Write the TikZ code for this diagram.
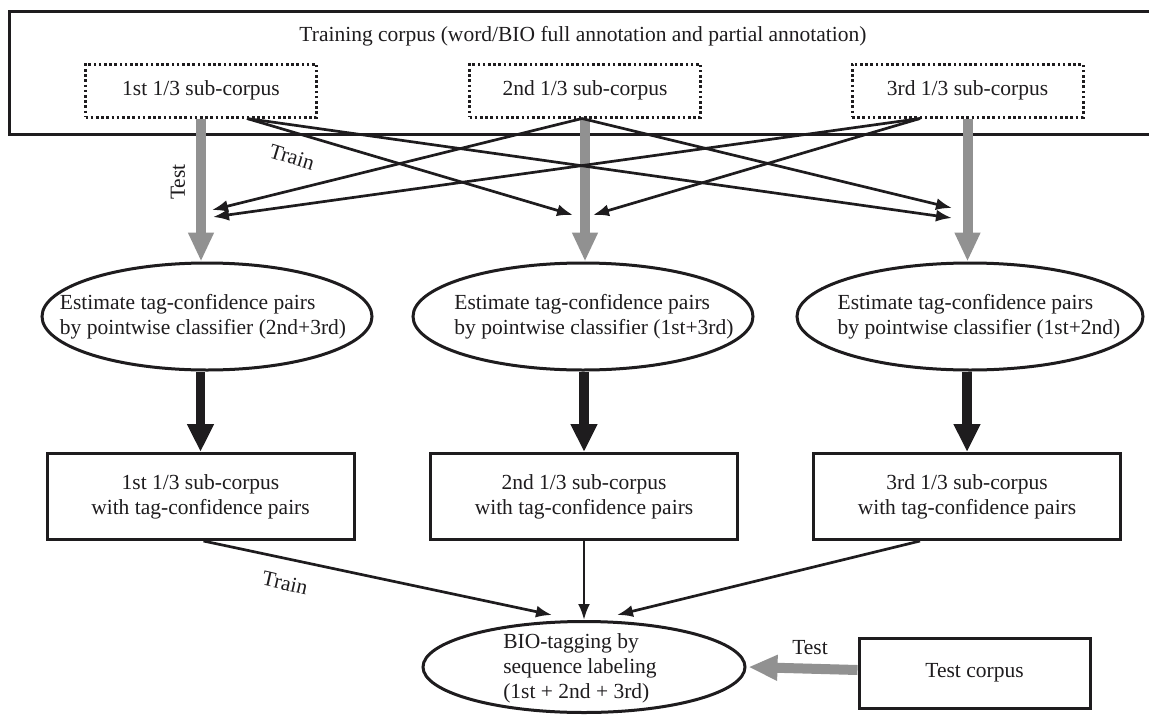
\documentclass[tikz,border=0pt]{standalone}
\usepackage{fontspec}
\setmainfont{Liberation Serif}
\usetikzlibrary{arrows.meta,shapes.geometric,calc}
\definecolor{grayarrow}{RGB}{145,145,145}
\definecolor{ink}{RGB}{30,28,30}
\begin{document}
\begin{tikzpicture}[x=1pt,y=-1pt,
  every node/.style={font=\fontsize{21.5}{25}\selectfont, text=ink},
  outerbox/.style={draw=ink, line width=3pt, rectangle, inner sep=0},
  dotbox/.style={draw=ink, line width=3pt, dash pattern=on 2.6pt off 2.6pt, rectangle, minimum width=231pt, minimum height=53pt, inner sep=0},
  ellnode/.style={draw=ink, line width=3pt, ellipse, inner sep=0},
  boxnode/.style={draw=ink, line width=3pt, rectangle, minimum width=307pt, minimum height=86pt, inner sep=0, align=center},
  thinarr/.style={draw=ink, line width=2.7pt, -{Latex[length=16pt,width=12pt]}},
  thickarr/.style={draw=ink, line width=9.5pt, -{Triangle[length=28pt,width=25pt]}},
  grayarr/.style={draw=grayarrow, line width=10pt, -{Triangle[length=29pt,width=24pt]}},
  lbl/.style={inner sep=0}
]
\useasboundingbox (0,0) rectangle (1149,718);
\fill[white] (0,0) rectangle (1149,718);

% outer training corpus box
\node[outerbox, minimum width=1150pt, minimum height=123pt, anchor=north west] (corpus) at (8,10) {};
\node[lbl] (title) at (583,36) {Training corpus (word/BIO full annotation and partial annotation)};

% sub-corpora
\node[dotbox] (s1) at (201,90.5) {1st 1/3 sub-corpus};
\node[dotbox] (s2) at (585,90.5) {2nd 1/3 sub-corpus};
\node[dotbox] (s3) at (967.5,90.5) {3rd 1/3 sub-corpus};

% estimate ellipses
\node[ellnode, minimum width=330pt, minimum height=107pt] (e1) at (207,316.5) {};
\node[ellnode, minimum width=340pt, minimum height=107pt] (e2) at (583,316.5) {};
\node[ellnode, minimum width=346pt, minimum height=107pt] (e3) at (970,316.5) {};
\node[lbl, align=left] (e1t) at (203,317) {Estimate tag-confidence pairs\\by pointwise classifier (2nd+3rd)};
\node[lbl, align=left] (e2t) at (594,317) {Estimate tag-confidence pairs\\by pointwise classifier (1st+3rd)};
\node[lbl, align=left] (e3t) at (979,317) {Estimate tag-confidence pairs\\by pointwise classifier (1st+2nd)};

% boxes with tag-confidence pairs
\node[boxnode] (b1) at (200.5,496.5) {1st 1/3 sub-corpus\\with tag-confidence pairs};
\node[boxnode] (b2) at (584,496.5) {2nd 1/3 sub-corpus\\with tag-confidence pairs};
\node[boxnode] (b3) at (967,496.5) {3rd 1/3 sub-corpus\\with tag-confidence pairs};

% final ellipse and test corpus
\node[ellnode, minimum width=322pt, minimum height=91pt] (ef) at (584,667) {};
\node[lbl, align=left] (eft) at (580,668) {BIO-tagging by\\sequence labeling\\(1st + 2nd + 3rd)};
\node[draw=ink, line width=3pt, rectangle, minimum width=231pt, minimum height=70pt, inner sep=0] (tc) at (974.5,673) {Test corpus};

% gray test arrows
\draw[grayarr] (s1.south) -- (s1.south |- e1.north);
\draw[grayarr] (s2.south) -- (s2.south |- e2.north);
\draw[grayarr] (s3.south) -- (s3.south |- e3.north);
\draw[grayarr] ($(tc.west)+(0,-3)$) -- ($(ef.east)+(2,0)$ |- {$(tc.west)+(0,-3)$});

% train crossing arrows
\coordinate (o1) at ($(s1.south)+(46,0)$);
\coordinate (o2) at ($(s2.south)+(-3,0)$);
\coordinate (o3) at ($(s3.south)+(-47.5,0)$);
\coordinate (t1a) at (212,210);
\coordinate (t1b) at (213,217);
\coordinate (t2a) at (573,215);
\coordinate (t2b) at (593,215);
\coordinate (t3a) at (952,208);
\coordinate (t3b) at (952,218);
\draw[thinarr] (o1) -- (t2a);
\draw[thinarr] (o1) -- (t3b);
\draw[thinarr] (o2) -- (t1a);
\draw[thinarr] (o2) -- (t3a);
\draw[thinarr] (o3) -- (t1b);
\draw[thinarr] (o3) -- (t2b);

% thick arrows
\draw[thickarr] (b1.north |- e1.south) -- (b1.north);
\draw[thickarr] (b2.north |- e2.south) -- (b2.north);
\draw[thickarr] (b3.north |- e3.south) -- (b3.north);

% arrows into final ellipse
\coordinate (f1) at (552,615);
\coordinate (f3) at (617,615);
\coordinate (ob3) at ($(b3.south)+(-47,0)$);
\draw[thinarr] ($(b1.south)+(3,0)$) -- (f1);
\draw[thinarr] (b2.south) -- (ef.north);
\draw[thinarr] (ob3) -- (f3);

% labels
\node[lbl, rotate=90] (testl1) at (178,182) {Test};
\node[lbl, rotate=-17] (trainl1) at (292,157) {Train};
\node[lbl, rotate=-13] (trainl2) at (285,583) {Train};
\node[lbl] (testl2) at (810,648) {Test};
\end{tikzpicture}
\end{document}
